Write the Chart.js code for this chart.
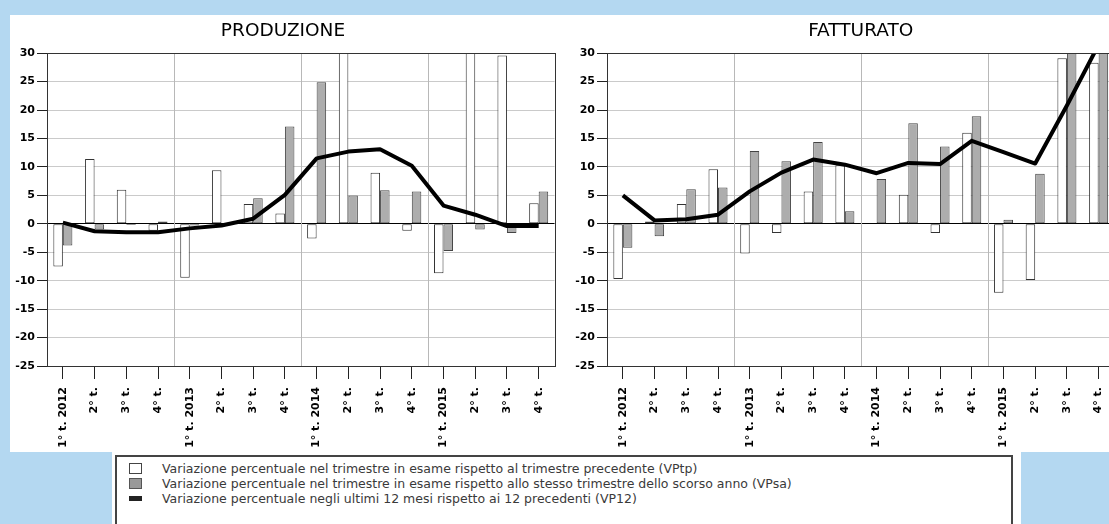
<!DOCTYPE html>
<html>
<head>
<meta charset="utf-8">
<script src="https://cdn.jsdelivr.net/npm/chart.js@4.4.1/dist/chart.umd.min.js"></script>
<style>
  body { margin: 0; width: 1109px; height: 524px; overflow: hidden; background: #b4d8f1; position: relative; font-family: 'DejaVu Sans', sans-serif; }
  #panel { position: absolute; left: 10px; top: 15px; width: 1099px; height: 437px; background: #fff; }
  #legendBg { position: absolute; left: 112px; top: 452px; width: 909px; height: 72px; background: #fff; }
  #legend { position: absolute; left: 115px; top: 455px; width: 898px; height: 80px; border: 2px solid #444; padding-top: 4px; box-sizing: border-box; }
  .row { display: flex; align-items: center; height: 15px; font-size: 12.5px; color: #3a3a3a; white-space: nowrap; }
  .ico { width: 13px; height: 11px; margin: 0 20px 0 12px; box-sizing: border-box; flex: none; }
  .ico.w { border: 1px solid #444; background: #fff; }
  .ico.g { border: 1px solid #555; background: #999; }
  .ico.l { height: 5px; background: #222; }
  canvas { position: absolute; }
</style>
</head>
<body>
<div id="panel"></div>
<canvas id="prod" width="550" height="437" style="left:10px;top:15px"></canvas>
<canvas id="fatt" width="550" height="437" style="left:570px;top:15px"></canvas>
<div id="legendBg"></div>
<div id="legend">
  <div class="row"><div class="ico w"></div>Variazione percentuale nel trimestre in esame rispetto al trimestre precedente (VPtp)</div>
  <div class="row"><div class="ico g"></div>Variazione percentuale nel trimestre in esame rispetto allo stesso trimestre dello scorso anno (VPsa)</div>
  <div class="row"><div class="ico l"></div>Variazione percentuale negli ultimi 12 mesi rispetto ai 12 precedenti (VP12)</div>
</div>
<script>
const quarters = ['1° t. 2012', '2° t.', '3° t.', '4° t.', '1° t. 2013', '2° t.', '3° t.', '4° t.',
                  '1° t. 2014', '2° t.', '3° t.', '4° t.', '1° t. 2015', '2° t.', '3° t.', '4° t.'];

// PRODUZIONE
const prodVPtp = [-7.5, 11.4, 6.0, -1.2, -9.5, 9.4, 3.5, 1.8, -2.6, 35, 9.0, -1.2, -8.7, 35, 29.6, 3.6];
const prodVPsa = [-3.8, -1.0, -0.2, 0.4, -0.3, 0, 4.5, 17.1, 24.9, 5.0, 5.9, 5.7, -4.8, -1.0, -1.6, 5.7];
const prodVP12 = [0.2, -1.3, -1.5, -1.5, -0.8, -0.3, 0.9, 5.1, 11.5, 12.7, 13.1, 10.2, 3.2, 1.6, -0.4, -0.4];

// FATTURATO
const fattVPtp = [-9.7, 0.4, 3.5, 9.6, -5.2, -1.6, 5.7, 10.3, 0, 5.1, -1.6, 16.0, -12.1, -9.9, 29.1, 28.3];
const fattVPsa = [-4.2, -2.2, 6.1, 6.4, 12.8, 11.0, 14.4, 2.2, 7.9, 17.7, 13.6, 18.9, 0.7, 8.8, 35, 33];
const fattVP12 = [5.0, 0.6, 0.8, 1.6, 5.7, 9.0, 11.3, 10.4, 8.9, 10.7, 10.5, 14.6, 12.6, 10.6, 20.8, 31.5];

const yMin = -25, yMax = 30, yStep = 5;

const FONT = 'DejaVu Sans';

// linee verticali di separazione degli anni + cornice
const yearLines = {
  id: 'yearLines',
  beforeDatasetsDraw(chart) {
    const { ctx, chartArea: a, scales: { x } } = chart;
    ctx.save();
    ctx.strokeStyle = '#b8b8b8';
    ctx.lineWidth = 1;
    for (let i = 4; i < quarters.length; i += 4) {
      const px = Math.round((x.getPixelForTick(i - 1) + x.getPixelForTick(i)) / 2) + 0.5;
      ctx.beginPath();
      ctx.moveTo(px, a.top);
      ctx.lineTo(px, a.bottom);
      ctx.stroke();
    }
    ctx.restore();
  },
  afterDatasetsDraw(chart) {
    const { ctx, chartArea: a } = chart;
    ctx.save();
    ctx.strokeStyle = '#333';
    ctx.lineWidth = 1;
    ctx.strokeRect(Math.round(a.left) + 0.5, Math.round(a.top) + 0.5, Math.round(a.width), Math.round(a.height));
    ctx.restore();
  }
};

function makeChart(id, title, vptp, vpsa, vp12, centreOnArea) {
  return new Chart(document.getElementById(id), {
    type: 'bar',
    data: {
      labels: quarters,
      datasets: [
        {
          type: 'line', label: 'VP12', data: vp12, order: 0,
          borderColor: '#000', borderWidth: 4, pointRadius: 0, tension: 0,
          borderJoinStyle: 'round', clip: 0
        },
        {
          label: 'VPtp', data: vptp, order: 1,
          backgroundColor: '#fff', borderColor: '#333', borderWidth: 1, borderSkipped: false,
          categoryPercentage: 0.6, barPercentage: 1.0, clip: 0
        },
        {
          label: 'VPsa', data: vpsa, order: 1,
          backgroundColor: '#adadad', borderColor: '#444', borderWidth: 1, borderSkipped: false,
          categoryPercentage: 0.6, barPercentage: 1.0, clip: 0
        }
      ]
    },
    options: {
      responsive: false,
      animation: false,
      layout: { padding: { left: 0, right: 4, top: 0, bottom: 0 } },
      plugins: {
        legend: { display: false },
        tooltip: { enabled: false },
        title: {
          display: true,
          text: title,
          fullSize: !centreOnArea,
          color: '#000',
          font: { family: FONT, size: 18.5, weight: 'normal' },
          padding: { top: 5, bottom: 11 }
        }
      },
      scales: {
        x: {
          offset: true,
          grid: { drawOnChartArea: false, offset: false, tickLength: 13, tickColor: '#222' },
          border: { color: '#000' },
          ticks: {
            autoSkip: false, maxRotation: 90, minRotation: 90, padding: 8,
            color: '#000', font: { family: FONT, size: 11, weight: 'bold' }
          },
          afterFit(s) { s.height = 86; }
        },
        y: {
          min: yMin, max: yMax,
          grid: {
            color: c => (c.tick && c.tick.value === 0 ? '#000' : '#cacaca'),
            tickLength: 10, tickColor: '#222'
          },
          border: { color: '#000' },
          ticks: {
            stepSize: yStep, padding: 2,
            color: '#000', font: { family: FONT, size: 11, weight: 'bold' }
          },
          afterFit(s) { s.width = 37; }
        }
      }
    },
    plugins: [yearLines]
  });
}

makeChart('prod', 'PRODUZIONE', prodVPtp, prodVPsa, prodVP12, false);
makeChart('fatt', 'FATTURATO', fattVPtp, fattVPsa, fattVP12, true);
</script>
</body>
</html>
